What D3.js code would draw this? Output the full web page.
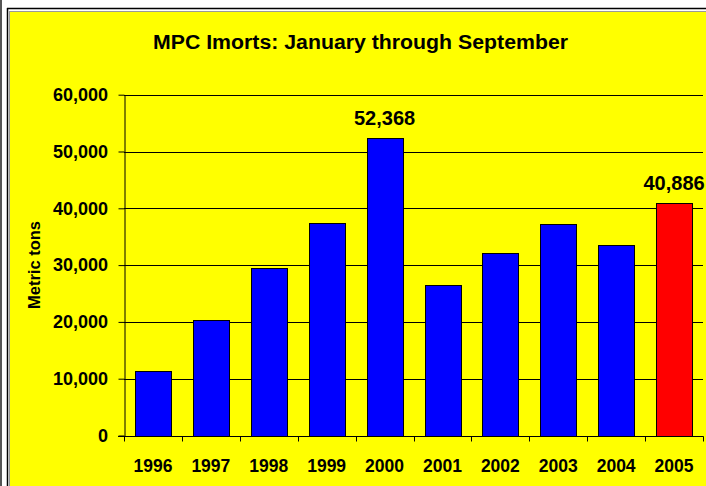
<!DOCTYPE html>
<html>
<head>
<meta charset="utf-8">
<script src="https://cdn.jsdelivr.net/npm/d3@7/dist/d3.min.js"></script>
<style>
html,body{margin:0;padding:0;background:#fff;}
svg{display:block;font-family:"Liberation Sans",Arial,sans-serif;}
</style>
</head>
<body>
<svg id="chart" width="706" height="486"></svg>
<script>
const years = ["1996","1997","1998","1999","2000","2001","2002","2003","2004","2005"];
const imports = [11300, 20400, 29500, 37400, 52368, 26500, 32100, 37200, 33500, 40886];
const yTicks = [0, 10000, 20000, 30000, 40000, 50000, 60000];
const labelled = ["2000", "2005"];
const highlightYear = "2005";
const titleText = "MPC Imorts: January through September";
const yAxisTitle = "Metric tons";

const svg = d3.select("#chart");
const W = 706, H = 486;

// frame
svg.append("rect").attr("x",0).attr("y",0).attr("width",2).attr("height",H).attr("fill","#555");
svg.append("rect").attr("x",10).attr("y",12).attr("width",W-10).attr("height",H-12).attr("fill","#ffff00");
svg.append("line").attr("x1",7.5).attr("y1",8).attr("x2",7.5).attr("y2",H).attr("stroke","#000").attr("stroke-width",1.5);
svg.append("line").attr("x1",7).attr("y1",8.5).attr("x2",W).attr("y2",8.5).attr("stroke","#000").attr("stroke-width",1.5);
svg.append("line").attr("x1",9.5).attr("y1",11).attr("x2",9.5).attr("y2",H).attr("stroke","#999").attr("stroke-width",1);
svg.append("line").attr("x1",9).attr("y1",11.5).attr("x2",W).attr("y2",11.5).attr("stroke","#999").attr("stroke-width",1);

const plotL = 124, plotR = 703, plotT = 94.7, plotB = 435.5;

const x = d3.scaleBand().domain(years).range([plotL, plotR]).paddingInner(0.38).paddingOuter(0.19);
const y = d3.scaleLinear().domain([0, 60000]).range([plotB, plotT]);

// title
svg.append("text").attr("x",360.5).attr("y",49).attr("text-anchor","middle")
  .attr("font-size",20).attr("font-weight","bold").attr("fill","#000")
  .attr("textLength",415).attr("lengthAdjust","spacingAndGlyphs").text(titleText);

// gridlines
svg.append("g").selectAll("line").data(yTicks.filter(d=>d>0)).join("line")
  .attr("x1",plotL).attr("x2",plotR)
  .attr("y1",d=>Math.round(y(d))+0.5).attr("y2",d=>Math.round(y(d))+0.5)
  .attr("stroke","#000").attr("stroke-width",1);

// y axis
const yAxis = d3.axisLeft(y).tickValues(yTicks).tickSize(6).tickSizeOuter(0)
  .tickFormat(d3.format(","));
const gy = svg.append("g").attr("transform",`translate(${plotL+0.5},0)`).call(yAxis);
gy.select(".domain").attr("stroke","#000");
gy.selectAll(".tick line").attr("stroke","#000");
gy.selectAll(".tick text").attr("font-size",18).attr("font-weight","bold")
  .attr("font-family","'Liberation Sans',Arial,sans-serif").attr("fill","#000")
  .attr("x",-16.5);

// bars
svg.append("g").selectAll("rect").data(years).join("rect")
  .attr("x",(d)=>Math.round(x(d))+0.5)
  .attr("y",(d,i)=>Math.round(y(imports[i]))+0.5)
  .attr("width",Math.round(x.bandwidth()))
  .attr("height",(d,i)=>Math.round(plotB)-Math.round(y(imports[i])))
  .attr("fill",d=>d===highlightYear?"#ff0000":"#0000ff")
  .attr("stroke","#000").attr("stroke-width",1);

// x axis
const gx = svg.append("g").attr("transform",`translate(0,${Math.round(plotB)+0.5})`);
gx.append("line").attr("x1",plotL-6).attr("x2",plotR+0.5).attr("y1",0).attr("y2",0).attr("stroke","#000");
const step = x.step();
const bounds = d3.range(years.length+1).map(i=>plotL + i*step);
gx.selectAll(".xt").data(bounds).join("line").attr("class","xt")
  .attr("x1",d=>Math.round(d)+0.5).attr("x2",d=>Math.round(d)+0.5).attr("y1",0).attr("y2",5)
  .attr("stroke","#000");
gx.selectAll("text").data(years).join("text")
  .attr("x",d=>x(d)+x.bandwidth()/2).attr("y",35)
  .attr("text-anchor","middle").attr("font-size",17.5).attr("font-weight","bold").attr("fill","#000")
  .text(d=>d);

// value labels
svg.append("g").selectAll("text").data(years.filter(d=>labelled.includes(d))).join("text")
  .attr("x",d=>x(d)+x.bandwidth()/2)
  .attr("y",d=>y(imports[years.indexOf(d)])-13)
  .attr("text-anchor","middle").attr("font-size",20).attr("font-weight","bold").attr("fill","#000")
  .text(d=>d3.format(",")(imports[years.indexOf(d)]));

// y axis title
svg.append("text").attr("transform",`translate(39.5,265) rotate(-90)`)
  .attr("text-anchor","middle").attr("font-size",16).attr("font-weight","bold").attr("fill","#000")
  .attr("textLength",88).attr("lengthAdjust","spacingAndGlyphs").text(yAxisTitle);
</script>
</body>
</html>
